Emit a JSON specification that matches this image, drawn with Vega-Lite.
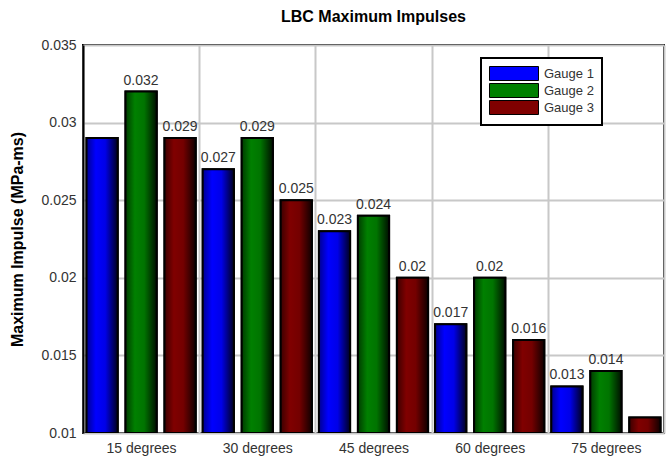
{
  "$schema": "https://vega.github.io/schema/vega-lite/v6.json",
  "autosize": {"type": "none"},
  "width": 581,
  "height": 388,
  "padding": {"left": 83, "top": 45, "right": 4, "bottom": 26},
  "background": "white",
  "config": {
    "font": "Liberation Sans",
    "view": {"stroke": "black", "strokeWidth": 2}
  },
  "title": {
    "text": "LBC Maximum Impulses",
    "fontSize": 16,
    "fontWeight": "bold",
    "color": "black",
    "anchor": "middle",
    "offset": 13
  },
  "data": {
    "values": [
      {"angle": "15 degrees", "gauge": "Gauge 1", "impulse": 0.029, "label": ""},
      {"angle": "15 degrees", "gauge": "Gauge 2", "impulse": 0.032, "label": "0.032"},
      {"angle": "15 degrees", "gauge": "Gauge 3", "impulse": 0.029, "label": "0.029"},
      {"angle": "30 degrees", "gauge": "Gauge 1", "impulse": 0.027, "label": "0.027"},
      {"angle": "30 degrees", "gauge": "Gauge 2", "impulse": 0.029, "label": "0.029"},
      {"angle": "30 degrees", "gauge": "Gauge 3", "impulse": 0.025, "label": "0.025"},
      {"angle": "45 degrees", "gauge": "Gauge 1", "impulse": 0.023, "label": "0.023"},
      {"angle": "45 degrees", "gauge": "Gauge 2", "impulse": 0.024, "label": "0.024"},
      {"angle": "45 degrees", "gauge": "Gauge 3", "impulse": 0.020, "label": "0.02"},
      {"angle": "60 degrees", "gauge": "Gauge 1", "impulse": 0.017, "label": "0.017"},
      {"angle": "60 degrees", "gauge": "Gauge 2", "impulse": 0.020, "label": "0.02"},
      {"angle": "60 degrees", "gauge": "Gauge 3", "impulse": 0.016, "label": "0.016"},
      {"angle": "75 degrees", "gauge": "Gauge 1", "impulse": 0.013, "label": "0.013"},
      {"angle": "75 degrees", "gauge": "Gauge 2", "impulse": 0.014, "label": "0.014"},
      {"angle": "75 degrees", "gauge": "Gauge 3", "impulse": 0.011, "label": ""}
    ]
  },
  "encoding": {
    "x": {
      "field": "angle",
      "type": "nominal",
      "scale": {"paddingInner": 0, "paddingOuter": 0},
      "axis": {
        "title": null,
        "labelAngle": 0,
        "labelFontSize": 14,
        "labelColor": "#333333",
        "labelPadding": 8,
        "ticks": false,
        "domain": false,
        "grid": true,
        "tickBand": "extent",
        "gridColor": "#c8c8c8",
        "gridWidth": 2,
        "gridOpacity": 1
      }
    },
    "xOffset": {
      "field": "gauge",
      "type": "nominal",
      "scale": {"paddingInner": 0.2, "paddingOuter": 0.09}
    },
    "y": {
      "field": "impulse",
      "type": "quantitative",
      "scale": {"domain": [0.01, 0.035], "zero": false, "nice": false},
      "axis": {
        "title": "Maximum Impulse (MPa-ms)",
        "titleFontSize": 16,
        "titleFontWeight": "bold",
        "titleColor": "black",
        "titlePadding": 15,
        "values": [0.01, 0.015, 0.02, 0.025, 0.03, 0.035],
        "format": ".3~f",
        "labelFontSize": 14,
        "labelColor": "#333333",
        "labelPadding": 7,
        "ticks": false,
        "domainColor": "black",
        "domainWidth": 2,
        "gridColor": "#c8c8c8",
        "gridWidth": 2,
        "gridOpacity": 1
      }
    }
  },
  "layer": [
    {
      "mark": {"type": "bar", "clip": true, "stroke": "black", "strokeWidth": 2},
      "encoding": {
        "y2": {"datum": 0.01},
        "color": {
          "field": "gauge",
          "type": "nominal",
          "scale": {"domain": ["Gauge 1", "Gauge 2", "Gauge 3"], "range": ["#0000ff", "#008000", "#800000"]},
          "legend": {
            "title": null,
            "orient": "none",
            "legendX": 398,
            "legendY": 13,
            "symbolType": "M-1,-1H6V1H-1Z",
            "symbolSize": 196,
            "symbolStrokeColor": "black",
            "symbolStrokeWidth": 1,
            "symbolOpacity": 1,
            "labelFontSize": 13,
            "labelColor": "#333333",
            "labelOffset": 40,
            "rowPadding": -3,
            "fillColor": "white",
            "strokeColor": "black",
            "padding": 8,
            "encode": {"legend": {"update": {"strokeWidth": {"value": 2}}}}
          }
        }
      }
    },
    {
      "mark": {"type": "bar", "clip": true, "stroke": "black", "strokeWidth": 2},
      "encoding": {
        "y2": {"datum": 0.01},
        "fill": {
          "condition": [
            {"test": "datum.gauge === 'Gauge 1'", "value": {"gradient": "linear", "x1": 0, "x2": 1, "y1": 0, "y2": 0, "stops": [{"offset": 0, "color": "#000090"}, {"offset": 0.3, "color": "#0000ff"}, {"offset": 0.6, "color": "#0000e8"}, {"offset": 1, "color": "#000020"}]}},
            {"test": "datum.gauge === 'Gauge 2'", "value": {"gradient": "linear", "x1": 0, "x2": 1, "y1": 0, "y2": 0, "stops": [{"offset": 0, "color": "#003c00"}, {"offset": 0.3, "color": "#008000"}, {"offset": 0.6, "color": "#007400"}, {"offset": 1, "color": "#001000"}]}}
          ],
          "value": {"gradient": "linear", "x1": 0, "x2": 1, "y1": 0, "y2": 0, "stops": [{"offset": 0, "color": "#3c0000"}, {"offset": 0.3, "color": "#800000"}, {"offset": 0.6, "color": "#740000"}, {"offset": 1, "color": "#100000"}]}
        }
      }
    },
    {
      "transform": [{"filter": "datum.label !== ''"}],
      "mark": {"type": "text", "baseline": "bottom", "dy": -4, "fontSize": 14, "color": "#333333"},
      "encoding": {
        "text": {"field": "label"}
      }
    }
  ]
}
